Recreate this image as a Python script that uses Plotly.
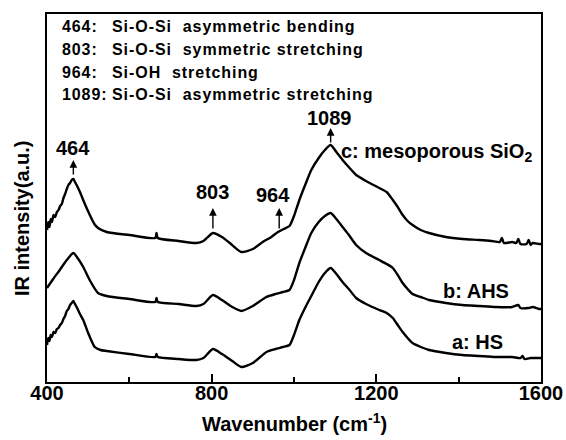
import plotly.graph_objects as go

# ---------------- data ----------------
wn_c = [400, 403, 406, 409, 412, 416, 420, 424, 428, 432, 436, 440, 444, 448, 452, 456, 460, 464, 468, 472,
        480, 492, 504, 515, 524, 545, 600, 663, 666, 669, 720, 763, 780, 803, 825, 844, 872, 900, 924, 945,
        961, 975, 989, 1000, 1013, 1028, 1042, 1060, 1075, 1089, 1103, 1118, 1135, 1151, 1175, 1207, 1225,
        1240, 1252, 1264, 1276, 1288, 1308, 1328, 1369, 1410, 1450, 1480, 1500, 1505, 1510, 1530, 1540, 1545,
        1550, 1565, 1570, 1575, 1580, 1595, 1600]
int_c = [152, 160, 155, 163, 160, 167, 165, 170, 172, 176, 178, 184, 188, 193, 197, 199, 202, 203, 200, 197,
         190, 178, 167, 158, 154, 150, 147, 144, 149, 144, 141, 139, 141, 149, 145, 139, 130, 133, 140, 145,
         150, 153, 156, 166, 182, 198, 212, 224, 232, 237, 230, 222, 214, 207, 201, 194, 190,
         182, 175, 167, 161, 157, 152, 149, 145, 143, 142, 141, 140, 144, 139, 140, 139, 143,
         138, 138, 142, 137, 139, 138, 138]

wn_b = [400, 415, 431, 448, 464, 476, 488, 505, 524, 545, 600, 663, 666, 669, 720, 763, 780, 803, 825, 850,
        872, 900, 933, 955, 973, 989, 1000, 1013, 1028, 1042, 1060, 1075, 1089, 1103, 1118, 1135, 1151, 1175,
        1207, 1225, 1240, 1252, 1264, 1276, 1288, 1308, 1328, 1369, 1409, 1450, 1490, 1530, 1545, 1550, 1570,
        1580, 1595, 1600]
int_b = [94, 103, 112, 122, 129, 123, 115, 101, 89, 86, 83, 80, 84, 80, 78, 76, 78, 87, 82, 75,
         71, 76, 85, 88, 90, 92, 102, 119, 135, 149, 160, 166, 169, 163, 155, 146, 137, 129,
         122, 118, 114, 107, 99, 93, 88, 85, 82, 79, 77, 76, 75, 75, 77, 74, 74,
         75, 73, 73]

wn_a = [400, 403, 406, 409, 412, 416, 420, 424, 428, 432, 436, 440, 444, 448, 452, 456, 460, 464, 468, 472,
        480, 488, 500, 516, 530, 545, 600, 663, 666, 669, 720, 763, 780, 803, 825, 850, 872, 900, 933, 955,
        973, 989, 1000, 1013, 1028, 1042, 1060, 1075, 1089, 1103, 1118, 1135, 1151, 1175, 1207, 1225, 1240,
        1252, 1264, 1276, 1288, 1308, 1328, 1369, 1409, 1450, 1490, 1530, 1550, 1555, 1560, 1575, 1580, 1600]
int_a = [37, 44, 41, 47, 45, 50, 49, 53, 54, 57, 59, 63, 66, 71, 73, 77, 79, 81, 78, 75,
         68, 62, 49, 35, 32, 31, 28, 25, 28, 25, 23, 22, 24, 33, 28, 21, 15, 19, 30, 33,
         35, 37, 47, 62, 75, 86, 100, 109, 114, 108, 100, 92, 84, 78, 72, 69, 64,
         57, 50, 44, 39, 35, 32, 29, 27, 26, 25, 25, 24, 26, 23, 24, 24, 24]

peak_wn = [464, 803, 964, 1089]
peak_lbl = ["464", "803", "964", "1089"]
assign_num = ["464:", "803:", "964:", "1089:"]
assign_txt = ["Si-O-Si&nbsp; asymmetric bending", "Si-O-Si&nbsp; symmetric stretching",
              "Si-OH&nbsp; stretching", "Si-O-Si&nbsp; asymmetric stretching"]
series_names = ["c: mesoporous SiO<sub>2</sub>", "b: AHS", "a: HS"]
xticks = [400, 800, 1200, 1600]

FONT = "Liberation Sans, Arial, sans-serif"

fig = go.Figure()
for xs, ys, nm in [(wn_c, int_c, series_names[0]), (wn_b, int_b, series_names[1]), (wn_a, int_a, series_names[2])]:
    fig.add_trace(go.Scatter(x=xs, y=ys, mode="lines", name=nm,
                             line=dict(color="black", width=2.4, shape="spline", smoothing=0.6),
                             showlegend=False, hoverinfo="skip"))

ann = []
# arrows (head at top, tail just above each peak)
arrow_tail = [206, 152, 152, 238]
arrow_head = [222, 174, 174, 254]
for w, t, h in zip(peak_wn, arrow_tail, arrow_head):
    ann.append(dict(x=w, y=h, ax=w, ay=t, xref="x", yref="y", axref="x", ayref="y",
                    text="", showarrow=True, arrowhead=2, arrowsize=1.1, arrowwidth=1.4,
                    arrowcolor="black", standoff=0, startstandoff=0))
# peak labels
lbl_pos = [(464, 234), (803, 190), (948, 187), (1086, 264)]
for (lx, ly), t in zip(lbl_pos, peak_lbl):
    ann.append(dict(x=lx, y=ly, xref="x", yref="y", text=t, showarrow=False,
                    font=dict(size=20, color="black", family=FONT, weight="bold"),
                    xanchor="center", yanchor="middle"))
# series labels
ann.append(dict(x=1110, y=230, xref="x", yref="y", text=series_names[0], showarrow=False,
                font=dict(size=20, color="black", family=FONT, weight="bold"),
                xanchor="left", yanchor="middle"))
ann.append(dict(x=1443, y=91, xref="x", yref="y", text=series_names[1], showarrow=False,
                font=dict(size=20, color="black", family=FONT, weight="bold"),
                xanchor="center", yanchor="middle"))
ann.append(dict(x=1446, y=40, xref="x", yref="y", text=series_names[2], showarrow=False,
                font=dict(size=20, color="black", family=FONT, weight="bold"),
                xanchor="center", yanchor="middle"))

# assignment list (4 lines, 22.7 px pitch)
line_y = [355.3, 332.7, 310, 287.3]
for yy, n, t in zip(line_y, assign_num, assign_txt):
    ann.append(dict(x=431, y=yy, xref="x", yref="y",
                    text='<span style="letter-spacing:0.9px">' + n + '</span>', showarrow=False,
                    font=dict(size=16, color="black", family=FONT, weight="bold"),
                    xanchor="left", yanchor="middle"))
    ann.append(dict(x=553, y=yy, xref="x", yref="y",
                    text='<span style="letter-spacing:0.95px">' + t + '</span>', showarrow=False,
                    font=dict(size=16, color="black", family=FONT, weight="bold"),
                    xanchor="left", yanchor="middle"))
# axis titles
ann.append(dict(x=0.5, y=-0.109, xref="paper", yref="paper", text="Wavenumber (cm<sup>-1</sup>)",
                showarrow=False, font=dict(size=20, color="black", family=FONT, weight="bold"),
                xanchor="center", yanchor="middle"))
ann.append(dict(x=-0.051, y=0.445, xref="paper", yref="paper", text="IR intensity(a.u.)",
                showarrow=False, textangle=-90,
                font=dict(size=20, color="black", family=FONT, weight="bold"),
                xanchor="center", yanchor="middle"))

fig.update_layout(
    width=566, height=440,
    margin=dict(l=47, r=25, t=14, b=58, autoexpand=False),
    paper_bgcolor="white", plot_bgcolor="white",
    font=dict(family=FONT, color="black"),
    annotations=ann,
)
fig.update_xaxes(range=[400, 1600], tickvals=xticks, ticktext=[str(v) for v in xticks],
                 ticks="inside", ticklen=8, tickwidth=1.5, tickcolor="black",
                 minor=dict(ticks="inside", ticklen=5, tickwidth=1.5, tickcolor="black", dtick=200, tick0=400),
                 showline=True, linecolor="black", linewidth=1.5, mirror=True,
                 showgrid=False, zeroline=False, automargin=False, ticklabelstandoff=-8,
                 tickfont=dict(size=20, color="black", family=FONT, weight="bold"))
fig.update_yaxes(range=[0, 368], showticklabels=False, ticks="", automargin=False,
                 showline=True, linecolor="black", linewidth=1.5, mirror=True,
                 showgrid=False, zeroline=False)

fig.write_html("out.html")
